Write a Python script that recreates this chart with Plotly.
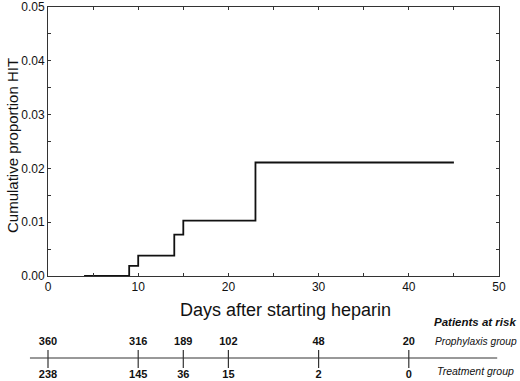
import plotly.graph_objects as go

# ---- data ----
step_days = [4, 9, 10, 14, 15, 23, 45]
cum_prop = [0.0, 0.0019, 0.0038, 0.0077, 0.0103, 0.0211, 0.0211]

risk_days = [0, 10, 15, 20, 30, 40]
prophylaxis_at_risk = [360, 316, 189, 102, 48, 20]
treatment_at_risk = [238, 145, 36, 15, 2, 0]

x_ticks = [0, 10, 20, 30, 40, 50]
y_ticks = [0.0, 0.01, 0.02, 0.03, 0.04, 0.05]

# ---- layout geometry (pixels) ----
W, H = 520, 381
PL, PR, PT, PB = 48, 499, 7, 276
ppd = (PR - PL) / 50.0
TB = 100  # height of risk-table band (px from bottom)

FONT = "Liberation Sans, Arial, sans-serif"
INK = "#111111"

fig = go.Figure()

fig.add_trace(go.Scatter(
    x=step_days, y=cum_prop, mode="lines", line=dict(shape="hv", color=INK, width=1.8),
    xaxis="x", yaxis="y", showlegend=False, hoverinfo="skip"))

# risk table line
fig.add_trace(go.Scatter(
    x=[-2, 49.8], y=[23, 23], mode="lines", line=dict(color="#333", width=1),
    xaxis="x2", yaxis="y2", showlegend=False, hoverinfo="skip"))
# risk tick marks
tx, ty = [], []
for d in risk_days:
    tx += [d, d, None]
    ty += [13, 31, None]
fig.add_trace(go.Scatter(
    x=tx, y=ty, mode="lines", line=dict(color="#333", width=1.2),
    xaxis="x2", yaxis="y2", showlegend=False, hoverinfo="skip"))
# numbers
fig.add_trace(go.Scatter(
    x=risk_days, y=[39] * len(risk_days), mode="text",
    text=[f"<b>{v}</b>" for v in prophylaxis_at_risk],
    textfont=dict(family=FONT, size=11, color=INK), cliponaxis=False,
    xaxis="x2", yaxis="y2", showlegend=False, hoverinfo="skip"))
fig.add_trace(go.Scatter(
    x=risk_days, y=[6] * len(risk_days), mode="text",
    text=[f"<b>{v}</b>" for v in treatment_at_risk],
    textfont=dict(family=FONT, size=11, color=INK), cliponaxis=False,
    xaxis="x2", yaxis="y2", showlegend=False, hoverinfo="skip"))

axis_common = dict(showgrid=False, zeroline=False, showline=True, linecolor="#333",
                   linewidth=1, mirror="ticks", ticks="inside", ticklen=3,
                   tickcolor="#333", automargin=False,
                   tickfont=dict(family=FONT, size=12, color=INK))


def ann(text, px, py, size, xanchor="center", angle=0):
    return dict(text=text, textangle=angle, xref="paper", yref="paper",
                x=px / W, y=(H - py) / H, xanchor=xanchor, yanchor="middle",
                showarrow=False, font=dict(family=FONT, size=size, color=INK))


fig.update_layout(
    width=W, height=H, margin=dict(l=0, r=0, t=0, b=0),
    paper_bgcolor="white", plot_bgcolor="rgba(0,0,0,0)",
    xaxis=dict(domain=[PL / W, PR / W], range=[0, 50], tickvals=x_ticks,
               minor=dict(dtick=5, ticks="inside", ticklen=3, tickcolor="#333"),
               anchor="y", **axis_common),
    yaxis=dict(domain=[(H - PB) / H, 1 - PT / H], range=[0, 0.05], tickvals=y_ticks,
               tickformat=".2f",
               minor=dict(dtick=0.005, ticks="inside", ticklen=3, tickcolor="#333"),
               anchor="x", **axis_common),
    xaxis2=dict(domain=[0, 1], range=[-PL / ppd, (W - PL) / ppd], visible=False,
                anchor="y2", fixedrange=True),
    yaxis2=dict(domain=[0, TB / H], range=[0, TB], visible=False, anchor="x2",
                fixedrange=True),
    annotations=[
        ann("Cumulative proportion HIT", 12, 146, 15, angle=-90),
        ann("Days after starting heparin", 285, 310, 18),
        ann("<b><i>Patients at risk</i></b>", 432, 322, 11.5, xanchor="left"),
        ann("<i>Prophylaxis group</i>", 433, 341, 10.2, xanchor="left"),
        ann("<i>Treatment group</i>", 435, 371, 10.5, xanchor="left"),
    ],
)

fig.write_html("out.html", config={"displayModeBar": False},
               post_script="document.body.style.margin='0';document.body.style.overflow='hidden';")
